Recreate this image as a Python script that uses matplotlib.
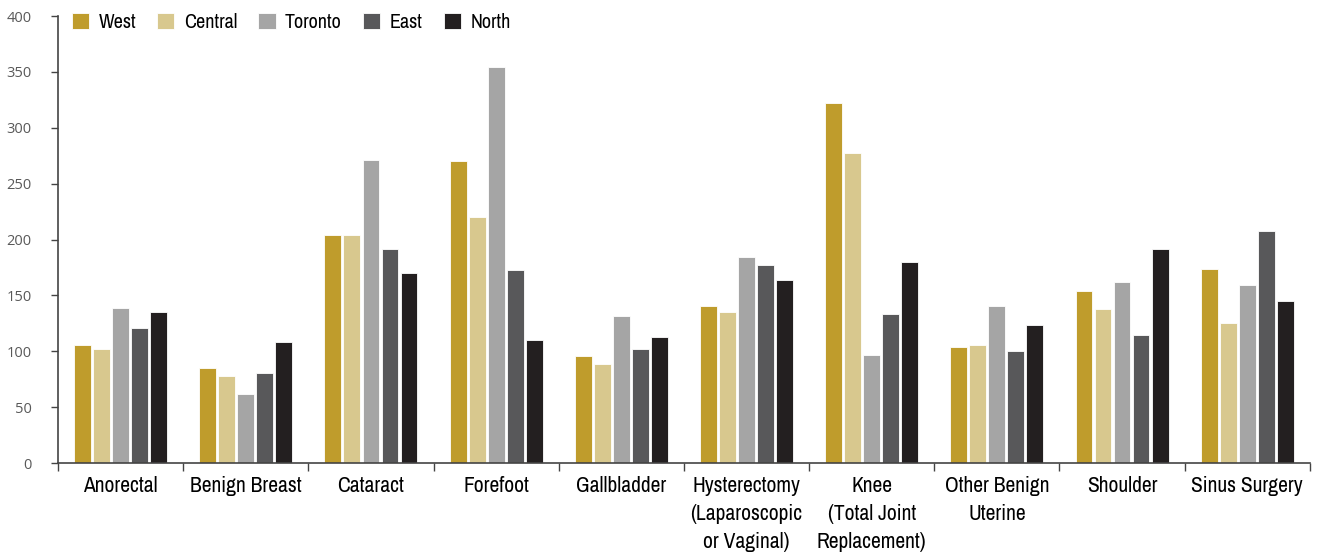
import numpy as np
import matplotlib
matplotlib.use('Agg')
import matplotlib.pyplot as plt

# ---------------------------------------------------------------------------- #
# Data                                                                         #
# ---------------------------------------------------------------------------- #

procedures = ['Anorectal', 'Benign Breast', 'Cataract', 'Forefoot', 'Gallbladder',
              'Hysterectomy\n(Laparoscopic\nor Vaginal)', 'Knee\n(Total Joint\nReplacement)',
              'Other Benign\nUterine', 'Shoulder', 'Sinus Surgery']

regions = ['West', 'Central', 'Toronto', 'East', 'North']

west    = [106, 85, 204, 270, 96, 141, 322, 104, 154, 174]
central = [102, 78, 204, 220, 89, 135, 277, 106, 138, 125]
toronto = [139, 62, 271, 354, 132, 184, 97, 141, 162, 159]
east    = [121, 81, 192, 173, 102, 177, 133, 100, 115, 208]
north   = [135, 108, 170, 110, 113, 164, 180, 124, 192, 145]

colors = ['#BF9C2C', '#D8C88E', '#A5A5A5', '#58585A', '#231F20']

# ---------------------------------------------------------------------------- #
# Plot                                                                         #
# ---------------------------------------------------------------------------- #

narrow = ['Archivo Narrow', 'Roboto Condensed', 'Liberation Sans', 'DejaVu Sans']
plain = ['Open Sans', 'DejaVu Sans']

fig = plt.figure(figsize=(13.19, 5.52), dpi=100)
ax = fig.add_axes([0.044, 0.161, 0.949, 0.810])

series = [west, central, toronto, east, north]
x = np.arange(len(procedures))
pitch = 0.152
width = 0.135

for i, (vals, name, c) in enumerate(zip(series, regions, colors)):
    offs = (i - 2) * pitch
    ax.bar(x + offs, vals, width=width, color=c, edgecolor='white',
           linewidth=0.6, label=name, zorder=2)

ax.set_xlim(-0.5, len(procedures) - 0.5)
ax.set_ylim(0, 400)
ax.set_yticks(np.arange(0, 401, 50))
for lbl in ax.get_yticklabels():
    lbl.set_fontfamily(plain)

for side in ['top', 'right']:
    ax.spines[side].set_visible(False)
for side in ['left', 'bottom']:
    ax.spines[side].set_color('#444444')
    ax.spines[side].set_linewidth(1.2)

ax.tick_params(axis='y', direction='out', length=5, width=1, color='#444444',
               labelcolor='#595959', labelsize=10.5, pad=14)

# category labels at centres, tick marks at the boundaries
ax.set_xticks(x)
ax.set_xticklabels(procedures, fontfamily=narrow, fontsize=15.5, color='black',
                   linespacing=1.5)
ax.set_xticks(np.arange(-0.5, len(procedures)), minor=True)
ax.tick_params(axis='x', which='major', length=0, pad=9)
ax.tick_params(axis='x', which='minor', length=6, width=1, color='#444444')

fig.legend(loc='upper left', bbox_to_anchor=(0.0546, 0.976), ncol=5, frameon=False,
           prop={'family': narrow, 'size': 14.5}, handlelength=0.85, handleheight=0.85,
           handletextpad=0.47, columnspacing=1.05, borderpad=0, borderaxespad=0)

fig.savefig('out.png', dpi=100)
